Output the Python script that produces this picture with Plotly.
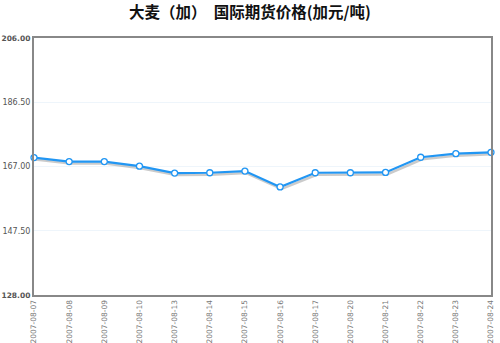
import plotly.graph_objects as go

dates = ["2007-08-07", "2007-08-08", "2007-08-09", "2007-08-10", "2007-08-13",
         "2007-08-14", "2007-08-15", "2007-08-16", "2007-08-17", "2007-08-20",
         "2007-08-21", "2007-08-22", "2007-08-23", "2007-08-24"]
prices = [169.7, 168.5, 168.5, 167.1, 165.0, 165.1, 165.6, 160.8, 165.1, 165.1,
          165.2, 169.8, 170.9, 171.3]
y_ticks = [128.0, 147.5, 167.0, 186.5, 206.0]
y_ticktext = ["<span style='font-size:7.5px'><b>128.00</b></span>", "147.50",
              "167.00", "186.50",
              "<span style='font-size:7.5px'><b>206.00</b></span>"]
title_text = "大麦（加）  国际期货价格(加元/吨)"

shadow_offset = 0.6
xs = list(range(len(dates)))

fig = go.Figure()
fig.add_trace(go.Scatter(
    x=[x + 0.04 for x in xs], y=[p - shadow_offset for p in prices],
    mode="lines", line=dict(color="rgba(160,160,160,0.55)", width=2.5),
    hoverinfo="skip", showlegend=False, cliponaxis=False))
fig.add_trace(go.Scatter(
    x=xs, y=prices, mode="lines+markers",
    line=dict(color="#2196f3", width=2.2),
    marker=dict(size=6, color="white", line=dict(color="#2196f3", width=1.3)),
    showlegend=False, cliponaxis=False))

fig.update_layout(
    width=500, height=343,
    margin=dict(l=34, r=9, t=38, b=48),
    paper_bgcolor="white", plot_bgcolor="white",
    title=dict(text="<b>" + title_text + "</b>", x=0.5, xanchor="center",
               y=0.962, yanchor="middle",
               font=dict(family="Noto Sans CJK SC", size=15.5, color="#111")),
    xaxis=dict(range=[0, len(dates) - 1], tickmode="array", tickvals=xs,
               ticktext=dates, tickangle=-90, showgrid=False, zeroline=False,
               showline=True, linecolor="#888", linewidth=2, mirror=True,
               automargin=False, ticks="",
               tickfont=dict(family="DejaVu Sans", size=7.5, color="#777")),
    yaxis=dict(range=[128, 206], tickmode="array", tickvals=y_ticks,
               ticktext=y_ticktext, showgrid=True, gridcolor="#eef5fb",
               gridwidth=1, zeroline=False, showline=True, linecolor="#888",
               linewidth=2, mirror=True, ticks="", automargin=False,
               tickfont=dict(family="DejaVu Sans", size=8, color="#555")),
)

fig.write_html("out.html")
